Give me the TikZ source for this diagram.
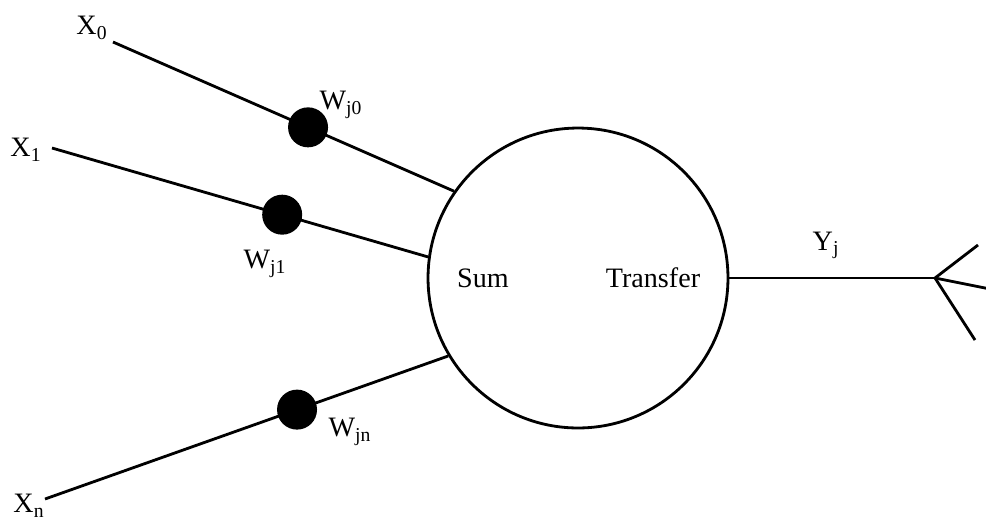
\documentclass[tikz,border=0pt]{standalone}
\usepackage{fontspec}
\setmainfont{Liberation Serif}
\usepackage{tikz}
\usetikzlibrary{positioning}

\begin{document}
\begin{tikzpicture}[
    x=0.02cm, y=-0.02cm,
    wire/.style={line width=1.6pt, black},
    neuron/.style={
        circle, draw, line width=1.6pt,
        minimum size=6cm, inner sep=0pt
    },
    weight/.style={circle, fill=black, minimum size=0.8cm, inner sep=0pt},
    lbl/.style={font=\fontsize{16}{18}\selectfont, inner sep=0pt},
    part/.style={font=\fontsize{16}{18}\selectfont, inner sep=0pt}
]
\useasboundingbox (0,0) rectangle (986,529);

\node[neuron] (cell) at (578,278) {};
\node[part] (sum) at (483,278) {Sum};
\node[part] (transfer) at (653,278) {Transfer};

\coordinate (in0) at (113,42);
\coordinate (in1) at (52,148);
\coordinate (inn) at (45,499);

\node[lbl] (x0) at (92,28) {X\textsubscript{0}};
\node[lbl] (x1) at (26,150) {X\textsubscript{1}};
\node[lbl] (xn) at (29,506) {X\textsubscript{n}};

\draw[wire] (in0) -- node[weight, pos=0.572] (w0) {} (cell.145.7);
\draw[wire] (in1) -- node[weight, pos=0.612] (w1) {} (cell.172.2);
\draw[wire] (inn) -- node[weight, pos=0.625] (wn) {} (cell.211.7);

\node[lbl] (w0lbl) at (341,105) {W\textsubscript{j0}};
\node[lbl] (w1lbl) at (265,264) {W\textsubscript{j1}};
\node[lbl] (wnlbl) at (350,432) {W\textsubscript{jn}};

% output side
\coordinate (fork) at (935,278);
\coordinate (out1) at (978,245);
\coordinate (out2) at (990,289);
\coordinate (out3) at (975,340);

\draw[wire] (cell.east) -- node[lbl, above=10pt, pos=0.47] (yj) {Y\textsubscript{j}} (fork);
\draw[wire] (fork) -- (out1);
\draw[wire] (fork) -- (out2);
\draw[wire] (fork) -- (out3);

\end{tikzpicture}
\end{document}
